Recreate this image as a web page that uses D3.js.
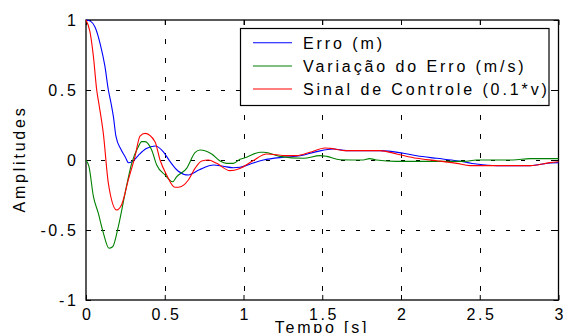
<!DOCTYPE html>
<html>
<head>
<meta charset="utf-8">
<script src="https://cdn.jsdelivr.net/npm/d3@7"></script>
<style>
    body { margin: 0; background: #fff; }
    text { font-family: "Liberation Sans", Arial, sans-serif; font-size: 16px; fill: #000; }
</style>
</head>
<body>
<svg id="mainSVG"></svg>
<script>
// data: time [s] and amplitude per series
var tErro = [0, 0.03, 0.057, 0.09, 0.12, 0.142, 0.16, 0.174, 0.19, 0.22, 0.25, 0.27, 0.29, 0.33, 0.38, 0.44, 0.49, 0.533, 0.586, 0.65, 0.72, 0.81, 0.87, 0.935, 0.978, 1.04, 1.126, 1.253, 1.36, 1.465, 1.57, 1.655, 1.867, 2.015, 2.1, 2.227, 2.354, 2.48, 2.61, 2.82, 2.946, 3];
var erro = [1, 0.99, 0.95, 0.83, 0.67, 0.5, 0.4, 0.31, 0.17, 0.08, 0.02, -0.02, -0.015, 0.03, 0.08, 0.1, 0.06, -0.01, -0.08, -0.107, -0.07, -0.036, -0.045, -0.055, -0.052, -0.03, 0, 0.02, 0.03, 0.06, 0.079, 0.067, 0.067, 0.048, 0.03, 0.012, -0.005, -0.029, -0.04, -0.04, -0.021, -0.019];

var tVar = [0, 0.019, 0.047, 0.078, 0.11, 0.146, 0.169, 0.205, 0.248, 0.29, 0.332, 0.354, 0.375, 0.417, 0.449, 0.502, 0.55, 0.575, 0.639, 0.692, 0.724, 0.798, 0.851, 0.893, 0.935, 0.978, 1.02, 1.105, 1.13, 1.232, 1.38, 1.486, 1.528, 1.613, 1.76, 1.8, 1.845, 1.97, 2.18, 2.4, 2.48, 2.71, 2.82, 3];
var variacao = [0, -0.048, -0.26, -0.38, -0.52, -0.63, -0.62, -0.476, -0.238, -0.024, 0.095, 0.131, 0.131, 0.071, -0.036, -0.107, -0.155, -0.12, -0.06, 0.052, 0.071, 0.043, -0.007, -0.024, -0.024, 0.005, 0.02, 0.055, 0.055, 0.026, 0.012, 0.031, 0.026, 0.002, 0, 0.01, 0, -0.01, -0.01, -0.01, 0, 0, 0.01, 0.01];

var tSinal = [0, 0.025, 0.047, 0.068, 0.085, 0.11, 0.142, 0.195, 0.226, 0.269, 0.311, 0.343, 0.375, 0.438, 0.47, 0.512, 0.565, 0.587, 0.65, 0.692, 0.735, 0.777, 0.83, 0.914, 0.977, 1.06, 1.147, 1.274, 1.337, 1.422, 1.517, 1.55, 1.655, 1.867, 1.973, 2.1, 2.227, 2.354, 2.438, 2.565, 2.82, 2.946, 3];
var sinal = [1, 0.917, 0.74, 0.5, 0.38, 0.19, -0.167, -0.357, -0.32, -0.14, 0.024, 0.171, 0.19, 0.131, 0, -0.107, -0.195, -0.195, -0.143, -0.06, -0.007, 0, -0.024, -0.076, -0.06, -0.005, 0.043, 0.031, 0.031, 0.055, 0.086, 0.083, 0.067, 0.067, 0.043, 0.012, -0.005, -0.024, -0.04, -0.04, -0.04, -0.019, -0.012];

var xTicks = [0, 0.5, 1, 1.5, 2, 2.5, 3];
var yTicks = [-1, -0.5, 0, 0.5, 1];
var legendLabels = ["Erro (m)", "Variação do Erro (m/s)", "Sinal de Controle (0.1*v)"];
var seriesColors = ["#0000ff", "#008000", "#ff0000"];

var width = 563;
var height = 333;
// plot box inside the page
var plotLeft = 86, plotRight = 558.5, plotTop = 20, plotBottom = 300;

var svg = d3.select("#mainSVG")
    .attr("width", width)
    .attr("height", height);

var x = d3.scaleLinear().domain([0, 3]).range([plotLeft, plotRight]);
var y = d3.scaleLinear().domain([-1, 1]).range([plotBottom, plotTop]);

// plain hyphen for negatives, like the original
var fmt = function(d) { return String(d); };

// dashed grid, only the inner ticks
svg.append("g")
    .selectAll("line")
    .data(xTicks.slice(1, -1))
    .enter()
    .append("line")
    .attr("x1", function(d) { return Math.round(x(d)) + 0.5; })
    .attr("x2", function(d) { return Math.round(x(d)) + 0.5; })
    .attr("y1", plotTop)
    .attr("y2", plotBottom)
    .attr("stroke", "#000")
    .attr("stroke-width", 1)
    .attr("stroke-dasharray", "5,14");

svg.append("g")
    .selectAll("line")
    .data(yTicks.slice(1, -1))
    .enter()
    .append("line")
    .attr("x1", plotLeft)
    .attr("x2", plotRight)
    .attr("y1", function(d) { return Math.round(y(d)) + 0.5; })
    .attr("y2", function(d) { return Math.round(y(d)) + 0.5; })
    .attr("stroke", "#000")
    .attr("stroke-width", 1)
    .attr("stroke-dasharray", "4,11");

// axes: ticks pointing inwards on all four sides
var axisBottom = svg.append("g")
    .attr("transform", "translate(0," + plotBottom + ")")
    .call(d3.axisBottom(x).tickValues(xTicks).tickSize(-5).tickPadding(10).tickFormat(fmt));
var axisTop = svg.append("g")
    .attr("transform", "translate(0," + plotTop + ")")
    .call(d3.axisTop(x).tickValues(xTicks).tickSize(-5).tickFormat(""));
var axisLeft = svg.append("g")
    .attr("transform", "translate(" + plotLeft + ",0)")
    .call(d3.axisLeft(y).tickValues(yTicks).tickSize(-5).tickPadding(10).tickFormat(fmt));
var axisRight = svg.append("g")
    .attr("transform", "translate(" + plotRight + ",0)")
    .call(d3.axisRight(y).tickValues(yTicks).tickSize(-5).tickFormat(""));

[axisBottom, axisTop, axisLeft, axisRight].forEach(function(a) {
    a.select(".domain").remove();
    a.selectAll("line").attr("stroke", "#000");
    a.selectAll("text")
        .style("font-family", "'Liberation Sans', Arial, sans-serif")
        .style("font-size", "16px")
        .style("letter-spacing", "2.6px")
        .attr("fill", "#000");
});
axisBottom.selectAll("text").attr("dx", "1.3px").attr("dy", "0.65em");
axisLeft.selectAll("text").attr("dx", "2.4px");

// plot box
svg.append("rect")
    .attr("x", plotLeft)
    .attr("y", plotTop)
    .attr("width", plotRight - plotLeft)
    .attr("height", plotBottom - plotTop)
    .attr("fill", "none")
    .attr("stroke", "#000")
    .attr("stroke-width", 1.3);

// the three curves
var allT = [tErro, tVar, tSinal];
var allV = [erro, variacao, sinal];
var line = d3.line()
    .x(function(d) { return x(d[0]); })
    .y(function(d) { return y(d[1]); })
    .curve(d3.curveMonotoneX);

for (var i = 0; i < 3; i++) {
    var pts = allT[i].map(function(t, j) { return [t, allV[i][j]]; });
    svg.append("path")
        .datum(pts)
        .attr("d", line)
        .attr("fill", "none")
        .attr("stroke", seriesColors[i])
        .attr("stroke-width", 1.1);
}

// legend box
var lgX = 240.5, lgY = 28.5, lgW = 308.5, lgH = 77;
svg.append("rect")
    .attr("x", lgX)
    .attr("y", lgY)
    .attr("width", lgW)
    .attr("height", lgH)
    .attr("fill", "#fff")
    .attr("stroke", "#000")
    .attr("stroke-width", 1.2);

var rowY = [42.7, 66, 89];
var legend = svg.append("g")
    .selectAll("g")
    .data(legendLabels)
    .enter()
    .append("g");
legend.append("line")
    .attr("x1", 253)
    .attr("x2", 292)
    .attr("y1", function(d, i) { return rowY[i]; })
    .attr("y2", function(d, i) { return rowY[i]; })
    .attr("stroke", function(d, i) { return seriesColors[i]; })
    .attr("stroke-width", 1.1);
legend.append("text")
    .attr("x", 303)
    .attr("y", function(d, i) { return rowY[i] + 5.8; })
    .style("letter-spacing", "2.9px")
    .text(function(d) { return d; });

// axis labels
svg.append("text")
    .attr("x", 322)
    .attr("y", 332.5)
    .style("text-anchor", "middle")
    .style("letter-spacing", "2.8px")
    .text("Tempo [s]");

svg.append("text")
    .attr("transform", "translate(25,159) rotate(-90)")
    .style("text-anchor", "middle")
    .style("letter-spacing", "2.8px")
    .text("Amplitudes");
</script>
</body>
</html>
